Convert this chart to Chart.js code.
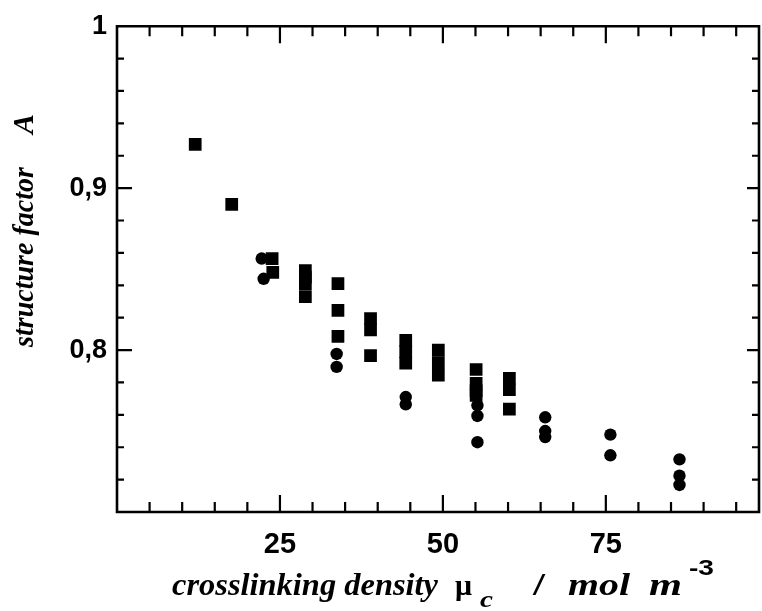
<!DOCTYPE html>
<html><head><meta charset="utf-8">
<script src="https://cdn.jsdelivr.net/npm/chart.js@4.4.1/dist/chart.umd.min.js"></script>
<style>
html,body{margin:0;padding:0;background:#fff;overflow:hidden}
#wrap{width:762px;height:611px;overflow:hidden;position:relative;background:#fff}
canvas{display:block}
</style>
</head><body><div id="wrap"><canvas id="c" width="768" height="611" style="width:768px;height:611px"></canvas></div>
<script>
// ---- data ----
const squareX = [12.0, 17.6, 23.8, 23.9, 28.9, 28.9, 28.9, 28.9, 33.9, 33.9, 33.9, 38.9, 38.9, 38.9, 44.3, 44.3, 44.3, 49.3, 49.3, 49.3, 55.1, 55.1, 55.1, 55.1, 60.2, 60.2, 60.2];
const squareY = [0.927, 0.890, 0.8565, 0.848, 0.849, 0.845, 0.841, 0.833, 0.841, 0.8245, 0.8085, 0.8195, 0.8125, 0.7965, 0.806, 0.799, 0.792, 0.800, 0.7923, 0.7845, 0.788, 0.7795, 0.775, 0.772, 0.7825, 0.7755, 0.7635];
const circleX = [22.2, 22.5, 33.7, 33.7, 44.3, 44.3, 55.3, 55.3, 55.3, 65.7, 65.7, 65.7, 75.7, 75.7, 86.3, 86.3, 86.3];
const circleY = [0.8565, 0.844, 0.7976, 0.7896, 0.771, 0.7665, 0.7659, 0.7593, 0.7431, 0.7585, 0.750, 0.7463, 0.7478, 0.735, 0.7325, 0.7224, 0.7167];
const xTickValues = [25, 50, 75];
const xTickLabels = ['25', '50', '75'];
const yTickValues = [0.8, 0.9, 1.0];
const yTickLabels = ['0,8', '0,9', '1'];
const xMinorStep = 5;
const yMinorStep = 0.02;
const xTitleMain = 'crosslinking density';
const xTitleSymbol = 'μ';
const xTitleSub = 'c';
const xTitleSlash = '/';
const xTitleUnit1 = 'mol';
const xTitleUnit2 = 'm';
const xTitleSup = '-3';
const yTitleMain = 'structure factor';
const yTitleSymbol = 'A';

const SERIF = '"Liberation Serif", "DejaVu Serif", "Times New Roman", serif';
const SANS = '"Liberation Sans", Arial, sans-serif';

// draw text starting at x, horizontally fitted to width w
function fitText(ctx, text, x, y, font, w) {
  ctx.font = font;
  const m = ctx.measureText(text).width;
  ctx.save();
  ctx.translate(x, y);
  ctx.scale(w / m, 1);
  ctx.fillText(text, 0, 0);
  ctx.restore();
}

const framePlugin = {
  id: 'frame',
  afterDraw(chart) {
    const ctx = chart.ctx;
    const a = chart.chartArea;
    const xs = chart.scales.x, ys = chart.scales.y;
    ctx.save();
    ctx.strokeStyle = '#000';
    ctx.lineWidth = 2.6;
    ctx.lineCap = 'butt';
    ctx.beginPath();
    ctx.rect(a.left, a.top, a.right - a.left, a.bottom - a.top);
    ctx.stroke();
    ctx.lineWidth = 2.2;
    ctx.beginPath();
    for (let i = 1; i * xMinorStep <= xs.max + 1e-9; i++) {
      const v = i * xMinorStep;
      const px = xs.getPixelForValue(v);
      const major = xTickValues.includes(v);
      const L = major ? 17 : 10;
      ctx.moveTo(px, a.bottom); ctx.lineTo(px, a.bottom - L);
      ctx.moveTo(px, a.top); ctx.lineTo(px, a.top + L);
    }
    const n = Math.round((ys.max - ys.min) / yMinorStep);
    for (let i = 1; i < n; i++) {
      const v = ys.min + i * yMinorStep;
      const py = ys.getPixelForValue(v);
      const major = yTickValues.some(t => Math.abs(t - v) < 1e-6);
      ctx.moveTo(a.left, py); ctx.lineTo(a.left + (major ? 15 : 7), py);
      ctx.moveTo(a.right, py); ctx.lineTo(a.right - (major ? 12 : 7), py);
    }
    ctx.stroke();

    ctx.fillStyle = '#000';
    ctx.textBaseline = 'alphabetic';
    ctx.textAlign = 'left';
    // x title
    const base = 595;
    fitText(ctx, xTitleMain, 172, base, 'italic bold 31px ' + SERIF, 266);
    fitText(ctx, xTitleSymbol, 455, base, 'bold 30px ' + SERIF, 17);
    fitText(ctx, xTitleSub, 480, base + 12, 'italic bold 24px ' + SERIF, 13);
    fitText(ctx, xTitleSlash, 533, base, 'bold 32px ' + SERIF, 12);
    fitText(ctx, xTitleUnit1, 568, base, 'italic bold 31px ' + SERIF, 62);
    fitText(ctx, xTitleUnit2, 649, base, 'italic bold 31px ' + SERIF, 33);
    fitText(ctx, xTitleSup, 689, base - 20, 'bold 22px ' + SANS, 25);

    // y title (rotated)
    ctx.save();
    ctx.translate(33, 0);
    ctx.rotate(-Math.PI / 2);
    fitText(ctx, yTitleMain, -347, 0, 'italic bold 30px ' + SERIF, 180);
    ctx.font = 'italic bold 30px ' + SERIF;
    const wA = ctx.measureText(yTitleSymbol).width;
    ctx.fillText(yTitleSymbol, -114 - wA, 0);
    ctx.restore();
    ctx.restore();
  }
};

const pts = (xs, ys) => xs.map((x, i) => ({ x: x, y: ys[i] }));

new Chart(document.getElementById('c'), {
  type: 'scatter',
  data: {
    datasets: [
      { label: 'squares', data: pts(squareX, squareY), pointStyle: 'rect', pointRadius: 9, backgroundColor: '#000', borderColor: '#000', borderWidth: 0 },
      { label: 'circles', data: pts(circleX, circleY), pointStyle: 'circle', pointRadius: 6.2, backgroundColor: '#000', borderColor: '#000', borderWidth: 0 }
    ]
  },
  options: {
    responsive: false,
    animation: false,
    devicePixelRatio: 1,
    layout: { padding: { top: 18, right: 3, left: 0, bottom: 0 } },
    plugins: { legend: { display: false }, tooltip: { enabled: false } },
    scales: {
      x: {
        type: 'linear', position: 'bottom', min: 0, max: 98.5,
        grid: { display: false, drawTicks: false },
        border: { display: false },
        afterBuildTicks: s => { s.ticks = xTickValues.map(v => ({ value: v })); },
        afterFit: s => { s.height = 99; },
        ticks: {
          autoSkip: false, maxRotation: 0, padding: 16, color: '#000',
          font: { family: SANS, size: 29, weight: 'bold' },
          callback: v => { const i = xTickValues.indexOf(v); return i >= 0 ? xTickLabels[i] : ''; }
        }
      },
      y: {
        type: 'linear', position: 'left', min: 0.7, max: 1.0,
        grid: { display: false, drawTicks: false },
        border: { display: false },
        afterBuildTicks: s => { s.ticks = yTickValues.map(v => ({ value: v })); },
        afterFit: s => { s.width = 117; },
        ticks: {
          autoSkip: false, padding: 10, color: '#000',
          font: { family: SANS, size: 27, weight: 'bold' },
          callback: v => { const i = yTickValues.findIndex(t => Math.abs(t - v) < 1e-9); return i >= 0 ? yTickLabels[i] : ''; }
        }
      }
    }
  },
  plugins: [framePlugin]
});
</script>
</body></html>
